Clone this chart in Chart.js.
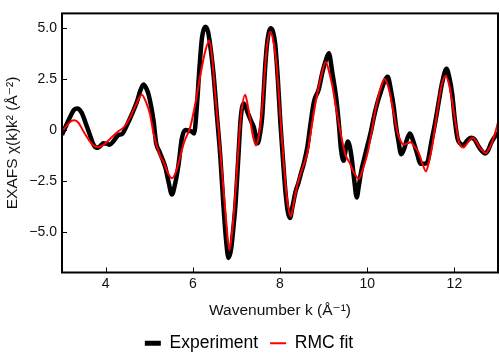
<!DOCTYPE html>
<html><head><meta charset="utf-8">
<script src="https://cdn.jsdelivr.net/npm/chart.js@4"></script>
<style>html,body{margin:0;padding:0;background:#fff}canvas{display:block}</style>
</head><body><canvas id="c" width="500" height="356"></canvas>
<script>
const kExp = [3.00,3.10,3.20,3.28,3.35,3.45,3.55,3.65,3.72,3.80,3.88,3.95,4.02,4.09,4.18,4.29,4.39,4.48,4.60,4.72,4.80,4.87,4.93,4.99,5.10,5.16,5.23,5.31,5.38,5.45,5.52,5.59,5.67,5.75,5.83,5.90,5.98,6.03,6.09,6.15,6.21,6.29,6.35,6.42,6.48,6.55,6.63,6.70,6.76,6.82,6.88,6.93,6.98,7.04,7.10,7.17,7.25,7.33,7.40,7.49,7.54,7.59,7.63,7.67,7.72,7.78,7.84,7.89,7.95,8.01,8.07,8.13,8.18,8.23,8.29,8.36,8.42,8.47,8.55,8.63,8.70,8.78,8.89,8.97,9.05,9.12,9.20,9.29,9.35,9.40,9.46,9.51,9.56,9.60,9.64,9.70,9.76,9.81,9.86,9.93,10.00,10.08,10.15,10.23,10.31,10.40,10.47,10.54,10.61,10.66,10.71,10.78,10.85,10.92,10.98,11.05,11.15,11.22,11.30,11.38,11.47,11.57,11.65,11.72,11.82,11.88,11.95,12.01,12.07,12.13,12.20,12.30,12.38,12.46,12.54,12.62,12.70,12.77,12.85,12.92,13.00];
const chiExp = [-0.23,0.25,0.70,1.00,1.05,0.85,0.30,-0.30,-0.70,-0.87,-0.78,-0.64,-0.66,-0.72,-0.55,-0.25,-0.17,0.20,0.76,1.40,1.95,2.22,2.05,1.70,0.45,-0.64,-1.03,-1.45,-1.90,-2.60,-3.15,-2.67,-1.73,-0.40,0.00,-0.02,-0.08,-0.17,1.07,2.95,4.50,5.05,4.80,3.80,2.63,0.80,-1.26,-3.60,-5.30,-6.25,-5.80,-4.80,-3.60,-1.50,0.60,1.30,0.90,0.47,0.14,-0.64,-0.20,0.60,2.00,3.40,4.50,4.97,4.80,4.20,2.50,0.30,-1.50,-3.13,-4.00,-4.30,-3.70,-2.98,-2.60,-2.20,-1.60,-0.80,0.30,1.39,2.00,2.80,3.40,3.75,2.80,1.54,0.30,-0.95,-1.50,-0.90,-0.56,-0.80,-1.30,-2.40,-3.29,-2.70,-2.04,-1.40,-0.80,-0.12,0.60,1.30,1.85,2.40,2.60,2.00,1.10,0.20,-0.45,-1.18,-0.90,-0.40,-0.17,-0.50,-1.20,-1.65,-1.65,-1.57,-0.60,0.50,1.50,2.32,3.00,2.60,1.75,0.50,-0.40,-0.65,-0.72,-0.50,-0.37,-0.45,-0.75,-1.00,-1.14,-1.00,-0.60,-0.35,-0.15];
const kFit = [3.00,3.10,3.20,3.28,3.38,3.50,3.62,3.72,3.84,3.95,4.07,4.19,4.30,4.42,4.52,4.61,4.72,4.83,4.92,5.02,5.10,5.25,5.33,5.42,5.52,5.62,5.71,5.80,5.94,6.05,6.17,6.28,6.38,6.44,6.51,6.59,6.67,6.76,6.84,6.91,6.98,7.04,7.10,7.20,7.26,7.32,7.38,7.45,7.52,7.59,7.64,7.69,7.78,7.86,7.93,8.01,8.09,8.17,8.25,8.32,8.40,8.50,8.63,8.72,8.82,8.93,9.05,9.12,9.20,9.30,9.40,9.50,9.59,9.70,9.81,9.90,10.00,10.10,10.19,10.30,10.40,10.47,10.53,10.61,10.69,10.76,10.84,10.92,11.00,11.08,11.18,11.26,11.35,11.42,11.49,11.56,11.64,11.72,11.80,11.88,11.95,12.03,12.11,12.21,12.31,12.42,12.50,12.56,12.64,12.72,12.80,12.87,12.94,13.00];
const chiFit = [-0.10,0.20,0.42,0.48,0.35,-0.10,-0.50,-0.75,-0.83,-0.72,-0.50,-0.25,-0.05,0.14,0.45,0.84,1.35,1.73,1.40,0.76,-0.17,-1.26,-1.57,-2.05,-2.36,-2.00,-1.30,-0.60,0.14,1.20,2.64,3.80,4.38,3.60,1.85,0.00,-2.04,-4.30,-5.86,-4.80,-2.98,-1.10,0.60,1.73,1.20,0.45,-0.30,-0.76,-0.20,1.07,2.50,3.88,4.80,4.20,2.94,0.60,-1.73,-3.50,-4.22,-3.50,-2.66,-1.95,-1.10,0.10,1.39,2.50,3.33,2.90,2.16,0.90,-0.25,-1.20,-1.57,-2.10,-2.38,-1.90,-1.20,-0.10,1.00,2.00,2.50,2.20,1.70,0.80,-0.08,-0.50,-0.72,-0.65,-0.60,-0.80,-1.10,-1.60,-2.02,-1.50,-0.80,0.20,1.39,2.30,2.64,2.20,1.39,0.30,-0.64,-0.85,-0.60,-0.38,-0.55,-0.80,-1.00,-1.12,-0.90,-0.56,-0.10,0.37];
const xTicks = [4, 6, 8, 10, 12];
const yTicks = [-5, -2.5, 0, 2.5, 5];
const yTickLabels = ['\u22125.0', '\u22122.5', '0', '2.5', '5.0'];
const seriesNames = ['Experiment', 'RMC fit'];

const FONT = "'Liberation Sans', Arial, 'DejaVu Sans', sans-serif";
const pts = (xs, ys) => xs.map((x, i) => ({x, y: ys[i]}));

const framePlugin = {
  id: 'frame',
  afterDraw(chart) {
    const {ctx, chartArea: a, scales: {x, y}} = chart;
    ctx.save();
    ctx.strokeStyle = '#000';
    ctx.lineWidth = 1;
    ctx.beginPath();
    xTicks.forEach(v => { const px = Math.round(x.getPixelForValue(v)) + 0.5; ctx.moveTo(px, a.bottom); ctx.lineTo(px, a.bottom - 5); });
    yTicks.forEach(v => { const py = Math.round(y.getPixelForValue(v)) + 0.5; ctx.moveTo(a.left, py); ctx.lineTo(a.left + 5, py); });
    ctx.stroke();
    ctx.lineWidth = 2;
    ctx.strokeRect(a.left, a.top, a.right - a.left, a.bottom - a.top);
    ctx.restore();
  }
};

new Chart(document.getElementById('c'), {
  type: 'scatter',
  data: {
    datasets: [
      {label: seriesNames[0], data: pts(kExp, chiExp), showLine: true, borderColor: '#000', borderWidth: 4.5, pointRadius: 0, cubicInterpolationMode: 'monotone', order: 2},
      {label: seriesNames[1], data: pts(kFit, chiFit), showLine: true, borderColor: '#ff0000', borderWidth: 2, pointRadius: 0, cubicInterpolationMode: 'monotone', order: 1}
    ]
  },
  options: {
    responsive: false,
    devicePixelRatio: 1,
    animation: false,
    layout: {padding: {top: 2, right: 2, left: 0, bottom: -6}},
    plugins: {
      tooltip: {enabled: false},
      legend: {
        position: 'bottom',
        labels: {
          usePointStyle: true,
          pointStyleWidth: 16,
          padding: 12,
          color: '#000',
          font: {family: FONT, size: 17.5},
          generateLabels(chart) {
            return chart.data.datasets.map((d, i) => ({
              text: d.label, pointStyle: 'line', strokeStyle: d.borderColor, fillStyle: d.borderColor,
              lineWidth: i === 0 ? 5 : 2, lineCap: 'butt', hidden: false, datasetIndex: i, fontColor: '#000'
            }));
          }
        }
      }
    },
    scales: {
      x: {
        type: 'linear', min: 3, max: 13,
        afterBuildTicks: s => { s.ticks = xTicks.map(v => ({value: v})); },
        afterFit: s => { s.height = 50; },
        grid: {display: false, drawTicks: false},
        border: {display: false},
        ticks: {padding: 3, color: '#111', font: {family: FONT, size: 14}},
        title: {display: true, text: 'Wavenumber k (\u00C5\u207B\u00B9)', color: '#111', font: {family: FONT, size: 15.5}, padding: {top: 0, bottom: 2}}
      },
      y: {
        type: 'linear', min: -6.96, max: 5.7,
        afterBuildTicks: s => { s.ticks = yTicks.map(v => ({value: v})); },
        afterFit: s => { s.width = 62; },
        grid: {display: false, drawTicks: false},
        border: {display: false},
        ticks: {padding: 5, color: '#111', font: {family: FONT, size: 14}, callback: (v) => yTickLabels[yTicks.indexOf(v)]},
        title: {display: true, text: 'EXAFS \u03C7(k)k\u00B2 (\u00C5\u207B\u00B2)', color: '#111', font: {family: FONT, size: 15.5}, padding: {top: 3, bottom: 0}}
      }
    }
  },
  plugins: [framePlugin]
});
</script>
</body></html>
